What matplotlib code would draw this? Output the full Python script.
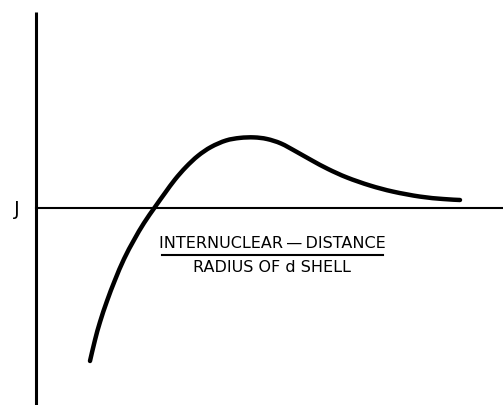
import numpy as np
import matplotlib.pyplot as plt
from matplotlib.path import Path
from matplotlib.patches import PathPatch

# exchange integral J vs. internuclear distance / radius of d shell (arbitrary units)
ratio = np.array([0.54, 0.59, 0.64, 0.71, 0.79, 0.88, 0.98, 1.08, 1.19, 1.29, 1.39,
                  1.50, 1.62, 1.75, 1.90, 2.04, 2.18, 2.31, 2.45, 2.60, 2.76, 2.92,
                  3.11, 3.34, 3.57, 3.84, 4.07, 4.24])
J = np.array([-1.53, -1.32, -1.14, -0.93, -0.72, -0.51, -0.32, -0.15, 0.01, 0.15,
              0.285, 0.41, 0.522, 0.61, 0.675, 0.701, 0.706, 0.690, 0.645, 0.565,
              0.475, 0.39, 0.305, 0.225, 0.164, 0.114, 0.09, 0.08])


def smooth_path(x, y):
    # Catmull-Rom through the points, written as cubic Bezier segments
    pts = np.column_stack([x, y])
    p = np.vstack([pts[0], pts, pts[-1]])
    verts = [pts[0]]
    codes = [Path.MOVETO]
    for i in range(1, len(p) - 2):
        c1 = p[i] + (p[i + 1] - p[i - 1]) / 6
        c2 = p[i + 1] - (p[i + 2] - p[i]) / 6
        verts += [c1, c2, p[i + 1]]
        codes += [Path.CURVE4] * 3
    return Path(verts, codes)


fig = plt.figure(figsize=(5.03, 4.05), dpi=100)
ax = fig.add_axes([0, 0, 1, 1])
ax.set_xlim(-0.36, 4.67)
ax.set_ylim(-1.97, 2.08)
ax.axis('off')

# axes drawn by hand
ax.plot([0, 0], [-1.97, 1.96], color='black', lw=2.2, solid_capstyle='butt')
ax.plot([0, 4.67], [0, 0], color='black', lw=1.5)

ax.add_patch(PathPatch(smooth_path(ratio, J), facecolor='none', edgecolor='black',
                       lw=3.2, capstyle='round'))

ax.text(-0.195, -0.015, 'J', fontsize=14, ha='center', va='center')
ax.text(2.36, -0.35, 'INTERNUCLEAR\u2009\u2014\u2009DISTANCE', fontsize=11.5,
        ha='center', va='center')
ax.plot([1.26, 3.47], [-0.47, -0.47], color='black', lw=1.5)
ax.text(2.36, -0.60, 'RADIUS OF d SHELL', fontsize=11.5, ha='center', va='center')

fig.savefig('out.png', dpi=100)
